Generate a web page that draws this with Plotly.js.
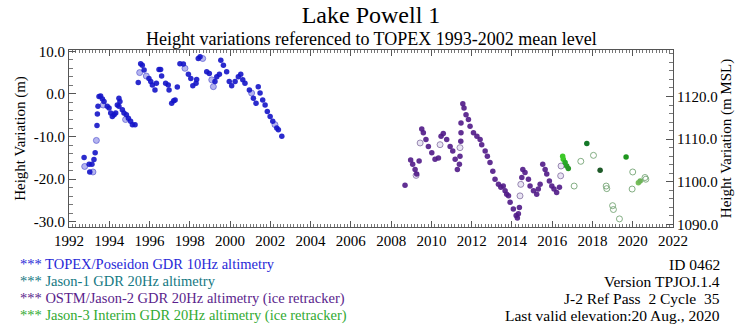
<!DOCTYPE html>
<html>
<head>
<meta charset="utf-8">
<script src="https://cdn.plot.ly/plotly-3.0.1.min.js"></script>
<style>html,body{margin:0;padding:0;background:#fff;}#chart{width:735px;height:328px;}</style>
</head>
<body>
<div id="chart"></div>
<script>
// ---- Data ----
const topexX = [1992.75,1993.0,1993.14,1993.03,1993.24,1993.3,1993.39,1993.41,1993.44,1993.49,1993.57,1993.66,1993.74,1993.9,1993.99,1994.07,1994.15,1994.24,1994.32,1994.4,1994.48,1994.53,1994.48,1994.65,1994.73,1994.85,1994.95,1995.06,1995.15,1995.28,
  1995.44,1995.56,1995.64,1995.73,1995.97,1996.06,1996.14,1996.27,1996.34,1996.47,1996.55,1996.6,1996.8,1996.93,1996.97,1997.1,1997.2,1997.27,1997.38,1997.51,1997.68,1997.93,1998.05,1998.15,1998.31,1998.34,1998.42,1998.51,1998.84,1998.97,1999.25,1999.34,1999.47,1999.54,1999.67,1999.83,1999.96,2000.08,2000.25,2000.41,2000.53,2000.63,2000.74,2000.96,2001.16,2001.29,2001.4,2001.49,2001.62,2001.74,2001.85,2001.99,2002.12,2002.32,2002.4,2002.57];
const topexY = [-14.9,-16.5,-16.5,-18.3,-15.4,-13.8,-7.4,-4.7,-2.9,-0.6,-0.5,-1.2,-1.8,-2.9,-3.3,-4.5,-5.3,-4.9,-4.5,-2.6,-1.0,-1.8,-2.9,-3.7,-4.5,-4.9,-5.7,-6.4,-7.2,-7.2,
  2.7,7.1,6.7,5.6,3.6,2.9,2.1,0.9,2.5,5.7,5.7,4.2,2.5,2.1,0.9,-2.2,-1.6,-1.4,1.6,7.1,7.0,4.6,3.6,1.9,2.5,3.4,8.3,8.7,5.2,4.8,2.9,4.0,4.6,7.9,6.7,5.2,2.9,1.9,2.9,4.0,4.6,3.3,2.5,0.9,-1.0,-2.2,1.7,0.2,-1.4,-2.6,-4.1,-5.3,-6.4,-8.0,-8.4,-9.9];
const topexLightX = [1992.78,1993.19,1993.36,1993.7,1994.81,1995.51,1995.84,1997.76,1998.64,1999.09,1999.17,2001.07,2002.23];
const topexLightY = [-17.0,-18.3,-10.9,-2.6,-6.0,5.0,4.2,6.0,8.3,3.3,1.7,0.2,-7.2];

const ostmX = [2008.69,2008.97,2009.07,2009.19,2009.27,2009.39,2009.52,2009.6,2009.73,2009.85,2010.02,2010.18,2010.35,2010.48,2010.59,2010.76,2010.93,2011.06,2011.18,2011.29,2011.39,2011.42,2011.46,2011.47,2011.47,2011.56,2011.62,2011.72,2011.84,2011.92,2012.09,2012.26,2012.42,2012.5,2012.67,2012.78,2012.91,2013.05,2013.16,2013.33,2013.45,2013.57,2013.66,2013.74,2013.83,2013.91,2014.07,2014.21,2014.27,2014.32,2014.37,2014.49,2014.54,2014.65,2014.82,2014.9,2015.07,2015.23,2015.31,2015.4,2015.53,2015.65,2015.73,2015.86,2015.98,2016.09,2016.22,2016.36];
const ostmY = [-21.4,-15.5,-16.5,-17.7,-18.8,-15.7,-8.2,-9.1,-10.7,-12.3,-13.8,-15.3,-15.0,-9.9,-9.3,-10.7,-12.3,-13.4,-15.3,-17.7,-16.5,-14.6,-11.1,-9.1,-6.8,-2.3,-3.3,-4.9,-6.0,-7.6,-9.1,-9.9,-10.7,-11.9,-13.4,-14.6,-16.1,-18.1,-20.0,-21.2,-21.9,-21.6,-22.7,-23.5,-23.9,-25.4,-27.0,-28.5,-29.1,-28.1,-26.6,-19.6,-17.7,-18.4,-20.0,-21.6,-22.7,-23.5,-22.3,-21.2,-16.5,-17.7,-18.8,-20.4,-21.6,-22.3,-23.1,-21.9];
const ostmLightX = [2009.24,2009.44,2010.43,2011.42,2014.4,2014.44,2016.42,2016.44];
const ostmLightY = [-19.1,-11.5,-11.9,-12.6,-23.9,-21.2,-19.2,-16.9];

const j3X = [2016.52,2016.55,2016.64,2016.72,2016.8,2017.72,2018.38,2019.67,2020.28,2020.37];
const j3Y = [-14.6,-15.3,-16.1,-16.9,-17.5,-11.6,-17.9,-14.8,-20.8,-20.4];
const j3LightX = [2017.09,2017.42,2018.05,2018.68,2018.71,2019.0,2019.04,2019.34,2020.0,2019.97,2020.61,2020.65];
const j3LightY = [-21.6,-15.8,-14.4,-21.6,-22.2,-26.2,-27.1,-29.3,-18.3,-22.3,-19.6,-20.0];

const leftTickVals = [-30,-20,-10,0,10];
const leftTickText = ['-30.0','-20.0','-10.0','0.0','10.0'];
const rightTickVals = [1090,1100,1110,1120];
const rightTickText = ['1090.0','1100.0','1110.0','1120.0'];
const xTickVals = [1992,1994,1996,1998,2000,2002,2004,2006,2008,2010,2012,2014,2016,2018,2020,2022];

const legendLines = [
  {text:'*** TOPEX/Poseidon GDR 10Hz altimetry', color:'rgb(40,40,215)'},
  {text:'*** Jason-1 GDR 20Hz altimetry', color:'rgb(20,120,130)'},
  {text:'*** OSTM/Jason-2 GDR 20Hz altimetry (ice retracker)', color:'rgb(90,30,140)'},
  {text:'*** Jason-3 Interim GDR 20Hz altimetry (ice retracker)', color:'rgb(50,170,50)'}
];
const infoLines = ['ID 0462','Version TPJOJ.1.4','J-2 Ref Pass  2 Cycle  35','Last valid elevation:20 Aug., 2020'];

// ---- Plot ----
const yRange = [-31.2, 10.3];
const offset = 1120.6;
const font = 'Liberation Serif, Times New Roman, serif';

const traces = [
  {x: topexLightX, y: topexLightY, mode:'markers', type:'scatter',
   marker:{size:6, color:'rgba(120,120,225,0.55)', line:{color:'rgba(90,90,210,0.7)', width:1}}},
  {x: topexX, y: topexY, mode:'markers', type:'scatter',
   marker:{size:5.5, color:'rgba(20,20,200,0.9)'}},
  {x: ostmLightX, y: ostmLightY, mode:'markers', type:'scatter',
   marker:{size:6, color:'rgba(200,190,225,0.4)', line:{color:'rgba(130,110,160,0.8)', width:1}}},
  {x: ostmX, y: ostmY, mode:'markers', type:'scatter',
   marker:{size:5.5, color:'rgba(80,25,135,0.9)'}},
  {x: j3LightX, y: j3LightY, mode:'markers', type:'scatter',
   marker:{size:6, color:'rgba(255,255,255,0)', line:{color:'rgba(110,160,110,0.85)', width:1}}},
  {x: j3X, y: j3Y, mode:'markers', type:'scatter',
   marker:{size:5.5, color:['rgb(60,200,40)','rgb(60,200,40)','rgb(40,170,40)','rgb(40,160,40)','rgb(40,150,40)','rgb(20,120,40)','rgb(30,90,40)','rgb(30,150,30)','rgb(120,190,90)','rgb(110,180,90)']}},
  {x:[2000], y:[1100], yaxis:'y2', mode:'markers', type:'scatter', marker:{opacity:0}, hoverinfo:'skip'}
];

const annotations = [
  {text:'Height variations referenced to TOPEX 1993-2002 mean level', xref:'paper', yref:'paper',
   x:0.5, y:1, yshift:11, showarrow:false, yanchor:'middle', font:{family:font, size:18, color:'#000'}}
];
const lineY = [264, 281, 298, 315];
const plotBottom = 227;
legendLines.forEach((l,i)=>{
  annotations.push({text:l.text, xref:'paper', yref:'paper', x:(18-69)/604, xanchor:'left',
    y:0, yanchor:'middle', yshift:-(lineY[i]-plotBottom), showarrow:false,
    font:{family:font, size:14.5, color:l.color}});
});
infoLines.forEach((t,i)=>{
  annotations.push({text:t, xref:'paper', yref:'paper', x:(722-69)/604, xanchor:'right',
    y:0, yanchor:'middle', yshift:-(lineY[i]-plotBottom), showarrow:false,
    font:{family:font, size:15.5, color:'#000'}});
});

const layout = {
  width:735, height:328,
  margin:{l:69, r:62, t:50, b:101},
  paper_bgcolor:'#fff', plot_bgcolor:'#fff',
  showlegend:false,
  font:{family:font, color:'#000'},
  title:{text:'Lake Powell 1', x:0.5, xref:'paper', y:1-15/328, yref:'container', yanchor:'middle',
         font:{family:font, size:24, color:'#000'}},
  xaxis:{range:[1992,2022], tickvals:xTickVals, ticktext:xTickVals.map(String),
         ticks:'inside', ticklen:6, tickcolor:'#555', showline:true, linecolor:'#555', linewidth:1,
         mirror:'ticks', showgrid:false, zeroline:false,
         minor:{ticks:'inside', ticklen:3, dtick:1/6, tickcolor:'#777'},
         tickfont:{family:font, size:15, color:'#000'}},
  yaxis:{range:yRange, tickvals:leftTickVals, ticktext:leftTickText,
         ticks:'inside', ticklen:7, tickcolor:'#555', showline:true, linecolor:'#555', linewidth:1,
         showgrid:false, zeroline:false,
         minor:{ticks:'inside', ticklen:4, dtick:2, tickcolor:'#777'},
         tickfont:{family:font, size:15, color:'#000'},
         title:{text:'Height Variation (m)', font:{family:font, size:15, color:'#000'}, standoff:4}},
  yaxis2:{overlaying:'y', side:'right', range:[yRange[0]+offset, yRange[1]+offset],
         tickvals:rightTickVals, ticktext:rightTickText,
         ticks:'inside', ticklen:7, tickcolor:'#555', showline:true, linecolor:'#555', linewidth:1,
         showgrid:false, zeroline:false,
         minor:{ticks:'inside', ticklen:4, dtick:2, tickcolor:'#777'},
         tickfont:{family:font, size:15, color:'#000'},
         title:{text:'Height Variation (m MSL)', font:{family:font, size:15, color:'#000'}, standoff:2}},
  annotations: annotations
};

Plotly.newPlot('chart', traces, layout, {staticPlot:true, displayModeBar:false});
</script>
</body>
</html>
